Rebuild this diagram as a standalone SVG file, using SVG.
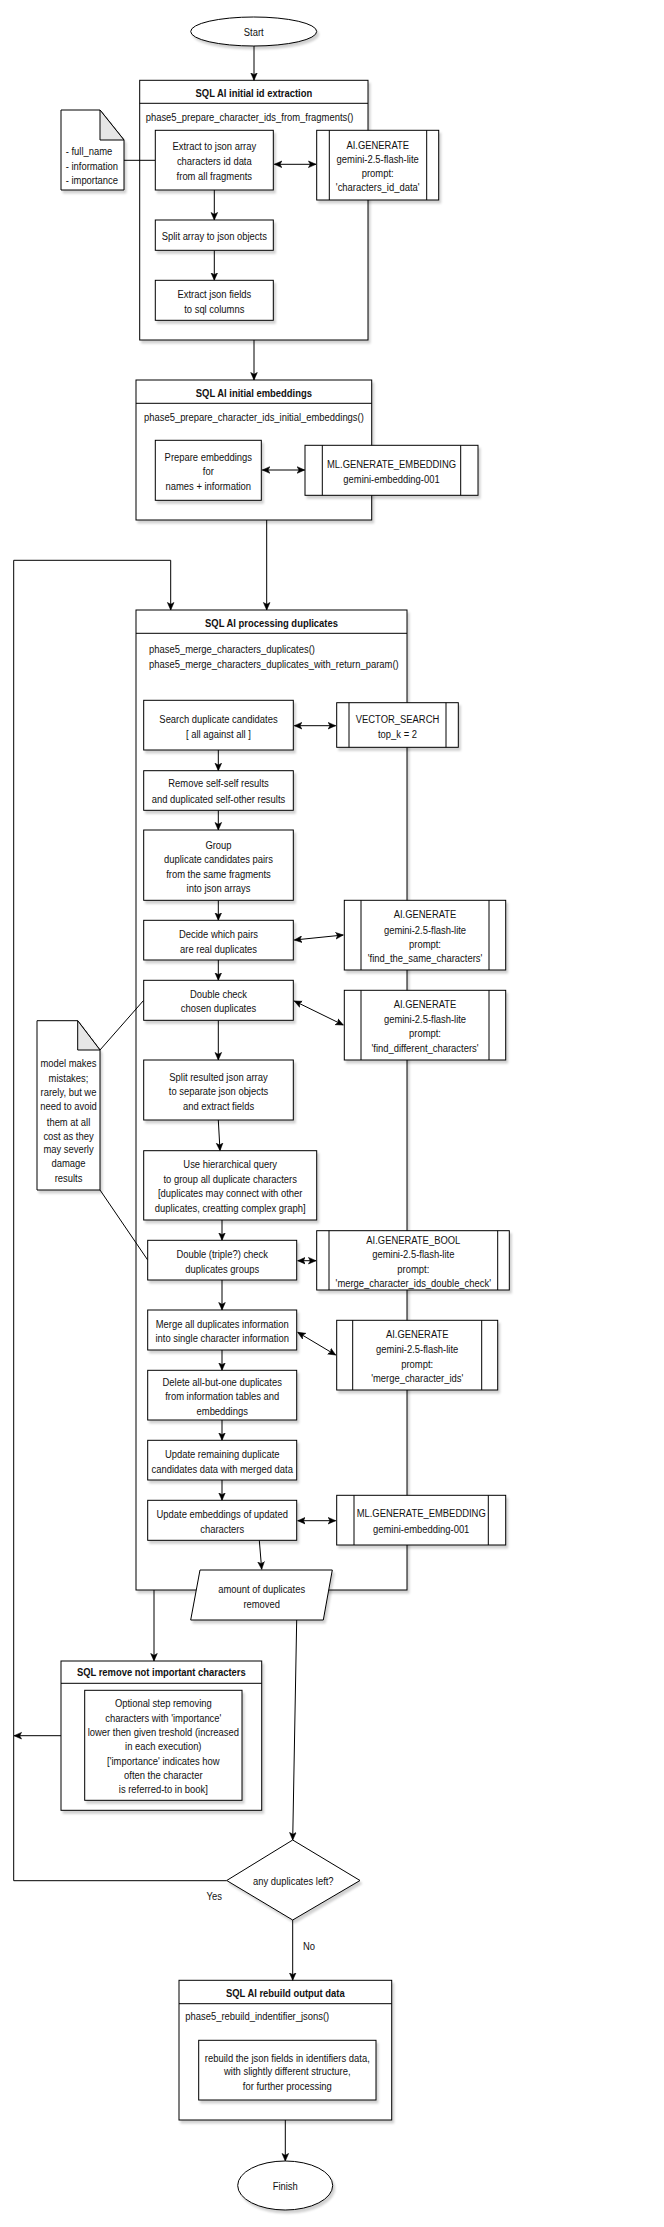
<svg xmlns="http://www.w3.org/2000/svg" width="664" height="2227" viewBox="0 0 664 2227">
<style>
.s{fill:#fff;stroke:#000;stroke-width:1;filter:url(#sh)}
.n{fill:none;stroke:#000;stroke-width:1}
.f{fill:#e6e6e6;stroke:#000;stroke-width:1}
.c{fill:none;stroke:#000;stroke-width:1}
.a{marker-end:url(#ar)}
.d{marker-start:url(#ar);marker-end:url(#ar)}
text{font-family:"Liberation Sans",Arial,sans-serif;font-size:11.5px;fill:#111;text-anchor:middle}
.b{font-weight:bold}
.l{text-anchor:start}
</style>
<defs>
<filter id="sh" x="-10%" y="-10%" width="130%" height="130%"><feDropShadow dx="2" dy="3" stdDeviation="1.2" flood-color="#000" flood-opacity="0.18"/></filter>
<marker id="ar" markerUnits="userSpaceOnUse" markerWidth="8.5" markerHeight="8.5" viewBox="0 0 9 8" refX="8" refY="4" orient="auto-start-reverse"><path d="M0,0.5 L8,4 L0,7.5 L2,4 Z" fill="#000" stroke="#000" stroke-width="0.6"/></marker>
</defs>
<rect width="664" height="2227" fill="#fff"/>

<g id="container-extraction">
<rect class="s" x="139.7" y="80.3" width="228.3" height="259.7"/>
<line class="n" x1="139.7" y1="103.3" x2="368" y2="103.3"/>
<text class="b" transform="translate(253.9,97) scale(0.82,1)">SQL AI initial id extraction</text>
<text class="l" transform="translate(145.7,120.7) scale(0.82,1)">phase5_prepare_character_ids_from_fragments()</text>
</g>
<g id="container-embeddings">
<rect class="s" x="136" y="380" width="235.7" height="140"/>
<line class="n" x1="136" y1="403.3" x2="371.7" y2="403.3"/>
<text class="b" transform="translate(253.9,396.7) scale(0.82,1)">SQL AI initial embeddings</text>
<text class="l" transform="translate(144,420.7) scale(0.82,1)">phase5_prepare_character_ids_initial_embeddings()</text>
</g>
<g id="container-duplicates">
<rect class="s" x="136" y="610" width="271" height="980"/>
<line class="n" x1="136" y1="633.3" x2="407" y2="633.3"/>
<text class="b" transform="translate(271.5,626.7) scale(0.82,1)">SQL AI processing duplicates</text>
<text class="l" transform="translate(149,653.3) scale(0.82,1)"><tspan x="0" y="0">phase5_merge_characters_duplicates()</tspan><tspan x="0" y="14.7">phase5_merge_characters_duplicates_with_return_param()</tspan></text>
</g>
<g id="container-remove">
<rect class="s" x="61" y="1661" width="200.7" height="149.3"/>
<line class="n" x1="61" y1="1683.3" x2="261.7" y2="1683.3"/>
<text class="b" transform="translate(161.3,1676.3) scale(0.82,1)">SQL remove not important characters</text>
</g>
<g id="container-rebuild">
<rect class="s" x="179" y="1980.3" width="212.7" height="139.7"/>
<line class="n" x1="179" y1="2003.7" x2="391.7" y2="2003.7"/>
<text class="b" transform="translate(285.3,1996.7) scale(0.82,1)">SQL AI rebuild output data</text>
<text class="l" transform="translate(185.3,2020) scale(0.82,1)">phase5_rebuild_indentifier_jsons()</text>
</g>

<g id="connectors">
<line class="c a" x1="254" y1="46" x2="254" y2="80.3"/>
<line class="c" x1="124" y1="160.3" x2="155.3" y2="160.3"/>
<line class="c d" x1="274.3" y1="164.3" x2="316" y2="164.3"/>
<line class="c a" x1="214.3" y1="190" x2="214.3" y2="220"/>
<line class="c a" x1="214.3" y1="250.3" x2="214.3" y2="280.3"/>
<line class="c a" x1="254" y1="340" x2="254" y2="380"/>
<line class="c d" x1="262.3" y1="470" x2="304.7" y2="470"/>
<line class="c a" x1="266.7" y1="520" x2="266.7" y2="610"/>
<polyline class="c a" points="226.7,1880.7 13.7,1880.7 13.7,560.3 170.7,560.3 170.7,610"/>
<line class="c d" x1="294.3" y1="725.7" x2="335.7" y2="725.7"/>
<line class="c a" x1="218.3" y1="750" x2="218.3" y2="770.7"/>
<line class="c a" x1="218.3" y1="810.3" x2="218.3" y2="830"/>
<line class="c a" x1="218.3" y1="900.3" x2="218.3" y2="920.3"/>
<line class="c d" x1="294.3" y1="940" x2="343.3" y2="935"/>
<line class="c a" x1="218.3" y1="960" x2="218.3" y2="980.3"/>
<line class="c d" x1="294.3" y1="1001" x2="343.3" y2="1025"/>
<line class="c a" x1="218.3" y1="1020.3" x2="218.3" y2="1060"/>
<line class="c a" x1="218.3" y1="1120" x2="220" y2="1150.7"/>
<line class="c a" x1="222" y1="1220" x2="222" y2="1240.3"/>
<line class="c d" x1="297.7" y1="1260.7" x2="316" y2="1260.7"/>
<line class="c a" x1="222" y1="1280" x2="222" y2="1310"/>
<line class="c d" x1="297.7" y1="1332.3" x2="335.7" y2="1355"/>
<line class="c a" x1="222" y1="1350" x2="222" y2="1370.3"/>
<line class="c a" x1="222" y1="1420" x2="222" y2="1440.3"/>
<line class="c a" x1="222" y1="1480" x2="222" y2="1500.3"/>
<line class="c d" x1="297.7" y1="1520.7" x2="335.7" y2="1520.7"/>
<line class="c a" x1="259.3" y1="1540.3" x2="261.7" y2="1569.3"/>
<line class="c" x1="100" y1="1050" x2="143.7" y2="1000.3"/>
<line class="c" x1="100" y1="1190" x2="147.7" y2="1260"/>
<line class="c a" x1="154" y1="1590" x2="154" y2="1661"/>
<line class="c a" x1="296.7" y1="1620" x2="292.7" y2="1840"/>
<line class="c a" x1="61" y1="1735.7" x2="14" y2="1735.7"/>
<line class="c a" x1="292.7" y1="1920" x2="292.7" y2="1980.3"/>
<line class="c a" x1="285.3" y1="2120" x2="285.3" y2="2161"/>
<text transform="translate(214.3,1899.7) scale(0.82,1)">Yes</text>
<text transform="translate(309,1949.7) scale(0.82,1)">No</text>
</g>

<g id="start">
<ellipse class="s" cx="253.7" cy="31.5" rx="63" ry="14.5"/>
<text transform="translate(253.7,35.5) scale(0.82,1)">Start</text>
</g>
<g id="note-fields">
<path class="s" d="M61,110 L100,110 L124,140 L124,190 L61,190 Z"/>
<path class="f" d="M100,110 L100,140 L124,140 Z"/>
<text class="l" transform="translate(65.7,155) scale(0.82,1)"><tspan x="0" y="0">- full_name</tspan><tspan x="0" y="14.7">- information</tspan><tspan x="0" y="29">- importance</tspan></text>
</g>
<g id="extract-array">
<rect class="s" x="155.3" y="130.3" width="118" height="59.7"/>
<text transform="translate(214.3,149.7) scale(0.82,1)"><tspan x="0" y="0">Extract to json array</tspan><tspan x="0" y="15">characters id data</tspan><tspan x="0" y="30">from all fragments</tspan></text>
</g>
<g id="ai-generate-ids">
<rect class="s" x="316.7" y="130.3" width="122" height="69.7"/>
<line class="n" x1="329.3" y1="130.3" x2="329.3" y2="200"/>
<line class="n" x1="426.7" y1="130.3" x2="426.7" y2="200"/>
<text transform="translate(377.7,149) scale(0.82,1)"><tspan x="0" y="0">AI.GENERATE</tspan><tspan x="0" y="14.3">gemini-2.5-flash-lite</tspan><tspan x="0" y="28.3">prompt:</tspan><tspan x="0" y="42.3">'characters_id_data'</tspan></text>
</g>
<g id="split-array">
<rect class="s" x="155.3" y="220" width="118" height="30.3"/>
<text transform="translate(214.3,239.7) scale(0.82,1)">Split array to json objects</text>
</g>
<g id="extract-fields">
<rect class="s" x="155.3" y="280.3" width="118" height="40"/>
<text transform="translate(214.3,297.7) scale(0.82,1)"><tspan x="0" y="0">Extract json fields</tspan><tspan x="0" y="15">to sql columns</tspan></text>
</g>
<g id="prepare-embeddings">
<rect class="s" x="155.3" y="440.3" width="106" height="60"/>
<text transform="translate(208.3,461.3) scale(0.82,1)"><tspan x="0" y="0">Prepare embeddings</tspan><tspan x="0" y="13.7">for</tspan><tspan x="0" y="28.7">names + information</tspan></text>
</g>
<g id="ml-embedding-1">
<rect class="s" x="305" y="445.3" width="173" height="50"/>
<line class="n" x1="322.3" y1="445.3" x2="322.3" y2="495.3"/>
<line class="n" x1="460.7" y1="445.3" x2="460.7" y2="495.3"/>
<text transform="translate(391.5,467.7) scale(0.82,1)"><tspan x="0" y="0">ML.GENERATE_EMBEDDING</tspan><tspan x="0" y="15">gemini-embedding-001</tspan></text>
</g>
<g id="search-candidates">
<rect class="s" x="143.7" y="700.3" width="149.6" height="49.7"/>
<text transform="translate(218.5,723) scale(0.82,1)"><tspan x="0" y="0">Search duplicate candidates</tspan><tspan x="0" y="15">[ all against all ]</tspan></text>
</g>
<g id="vector-search">
<rect class="s" x="336.7" y="702.7" width="121.6" height="44.6"/>
<line class="n" x1="349" y1="702.7" x2="349" y2="747.3"/>
<line class="n" x1="446" y1="702.7" x2="446" y2="747.3"/>
<text transform="translate(397.5,723) scale(0.82,1)"><tspan x="0" y="0">VECTOR_SEARCH</tspan><tspan x="0" y="15">top_k = 2</tspan></text>
</g>
<g id="remove-self">
<rect class="s" x="143.7" y="770.7" width="149.6" height="39.6"/>
<text transform="translate(218.5,787.3) scale(0.82,1)"><tspan x="0" y="0">Remove self-self results</tspan><tspan x="0" y="15.4">and duplicated self-other results</tspan></text>
</g>
<g id="group-pairs">
<rect class="s" x="143.7" y="830" width="149.6" height="70.3"/>
<text transform="translate(218.5,849) scale(0.82,1)"><tspan x="0" y="0">Group</tspan><tspan x="0" y="14.3">duplicate candidates pairs</tspan><tspan x="0" y="29">from the same fragments</tspan><tspan x="0" y="42.7">into json arrays</tspan></text>
</g>
<g id="decide-pairs">
<rect class="s" x="143.7" y="920.3" width="149.6" height="39.7"/>
<text transform="translate(218.5,938) scale(0.82,1)"><tspan x="0" y="0">Decide which pairs</tspan><tspan x="0" y="15">are real duplicates</tspan></text>
</g>
<g id="ai-generate-same">
<rect class="s" x="344.3" y="900.3" width="161.4" height="69.7"/>
<line class="n" x1="361" y1="900.3" x2="361" y2="970"/>
<line class="n" x1="489" y1="900.3" x2="489" y2="970"/>
<text transform="translate(425,918) scale(0.82,1)"><tspan x="0" y="0">AI.GENERATE</tspan><tspan x="0" y="16">gemini-2.5-flash-lite</tspan><tspan x="0" y="30.3">prompt:</tspan><tspan x="0" y="44.3">'find_the_same_characters'</tspan></text>
</g>
<g id="double-check">
<rect class="s" x="143.7" y="980.3" width="149.6" height="40"/>
<text transform="translate(218.5,998) scale(0.82,1)"><tspan x="0" y="0">Double check</tspan><tspan x="0" y="14.3">chosen duplicates</tspan></text>
</g>
<g id="ai-generate-different">
<rect class="s" x="344.3" y="990.3" width="161.4" height="69.7"/>
<line class="n" x1="361" y1="990.3" x2="361" y2="1060"/>
<line class="n" x1="489" y1="990.3" x2="489" y2="1060"/>
<text transform="translate(425,1008.3) scale(0.82,1)"><tspan x="0" y="0">AI.GENERATE</tspan><tspan x="0" y="14.7">gemini-2.5-flash-lite</tspan><tspan x="0" y="29">prompt:</tspan><tspan x="0" y="43.4">'find_different_characters'</tspan></text>
</g>
<g id="note-mistakes">
<path class="s" d="M37,1020.7 L77.7,1020.7 L100,1050 L100,1190 L37,1190 Z"/>
<path class="f" d="M77.7,1020.7 L77.7,1050 L100,1050 Z"/>
<text transform="translate(68.5,1066.7) scale(0.82,1)"><tspan x="0" y="0">model makes</tspan><tspan x="0" y="15">mistakes;</tspan><tspan x="0" y="29">rarely, but we</tspan><tspan x="0" y="43.3">need to avoid</tspan><tspan x="0" y="59">them at all</tspan><tspan x="0" y="73">cost as they</tspan><tspan x="0" y="86.6">may severly</tspan><tspan x="0" y="100.6">damage</tspan><tspan x="0" y="115">results</tspan></text>
</g>
<g id="split-resulted">
<rect class="s" x="143.7" y="1060" width="149.6" height="60"/>
<text transform="translate(218.5,1081) scale(0.82,1)"><tspan x="0" y="0">Split resulted json array</tspan><tspan x="0" y="14">to separate json objects</tspan><tspan x="0" y="29">and extract fields</tspan></text>
</g>
<g id="hierarchical-query">
<rect class="s" x="143.7" y="1150.7" width="173" height="69.3"/>
<text transform="translate(230.2,1168.3) scale(0.82,1)"><tspan x="0" y="0">Use hierarchical query</tspan><tspan x="0" y="14.7">to group all duplicate characters</tspan><tspan x="0" y="29">[duplicates may connect with other</tspan><tspan x="0" y="43.4">duplicates, creatting complex graph]</tspan></text>
</g>
<g id="double-triple-check">
<rect class="s" x="147.7" y="1240.3" width="149" height="39.7"/>
<text transform="translate(222.2,1258) scale(0.82,1)"><tspan x="0" y="0">Double (triple?) check</tspan><tspan x="0" y="14.7">duplicates groups</tspan></text>
</g>
<g id="ai-generate-bool">
<rect class="s" x="316.7" y="1230.7" width="192.6" height="59.3"/>
<line class="n" x1="329" y1="1230.7" x2="329" y2="1290"/>
<line class="n" x1="497.7" y1="1230.7" x2="497.7" y2="1290"/>
<text transform="translate(413.3,1244) scale(0.82,1)"><tspan x="0" y="0">AI.GENERATE_BOOL</tspan><tspan x="0" y="14">gemini-2.5-flash-lite</tspan><tspan x="0" y="28.7">prompt:</tspan><tspan x="0" y="42.7">'merge_character_ids_double_check'</tspan></text>
</g>
<g id="merge-info">
<rect class="s" x="147.7" y="1310" width="149" height="40"/>
<text transform="translate(222.2,1327.7) scale(0.82,1)"><tspan x="0" y="0">Merge all duplicates information</tspan><tspan x="0" y="14.6">into single character information</tspan></text>
</g>
<g id="ai-generate-merge">
<rect class="s" x="336.7" y="1320.3" width="161" height="69.7"/>
<line class="n" x1="352.7" y1="1320.3" x2="352.7" y2="1390"/>
<line class="n" x1="481.7" y1="1320.3" x2="481.7" y2="1390"/>
<text transform="translate(417.2,1338.3) scale(0.82,1)"><tspan x="0" y="0">AI.GENERATE</tspan><tspan x="0" y="14.7">gemini-2.5-flash-lite</tspan><tspan x="0" y="29.7">prompt:</tspan><tspan x="0" y="44">'merge_character_ids'</tspan></text>
</g>
<g id="delete-duplicates">
<rect class="s" x="147.7" y="1370.3" width="149" height="49.7"/>
<text transform="translate(222.2,1386.3) scale(0.82,1)"><tspan x="0" y="0">Delete all-but-one duplicates</tspan><tspan x="0" y="13.4">from information tables and</tspan><tspan x="0" y="28.4">embeddings</tspan></text>
</g>
<g id="update-remaining">
<rect class="s" x="147.7" y="1440.3" width="149" height="39.7"/>
<text transform="translate(222.2,1458.3) scale(0.82,1)"><tspan x="0" y="0">Update remaining duplicate</tspan><tspan x="0" y="14.7">candidates data with merged data</tspan></text>
</g>
<g id="update-embeddings">
<rect class="s" x="147.7" y="1500.3" width="149" height="40"/>
<text transform="translate(222.2,1518) scale(0.82,1)"><tspan x="0" y="0">Update embeddings of updated</tspan><tspan x="0" y="14.7">characters</tspan></text>
</g>
<g id="ml-embedding-2">
<rect class="s" x="336.7" y="1495.3" width="169" height="49.7"/>
<line class="n" x1="354" y1="1495.3" x2="354" y2="1545"/>
<line class="n" x1="488.3" y1="1495.3" x2="488.3" y2="1545"/>
<text transform="translate(421.2,1517.3) scale(0.82,1)"><tspan x="0" y="0">ML.GENERATE_EMBEDDING</tspan><tspan x="0" y="15.4">gemini-embedding-001</tspan></text>
</g>
<g id="amount-removed">
<polygon class="s" points="200,1570 332.3,1570 323.3,1620 190.7,1620"/>
<text transform="translate(261.7,1592.7) scale(0.82,1)"><tspan x="0" y="0">amount of duplicates</tspan><tspan x="0" y="15">removed</tspan></text>
</g>
<g id="optional-remove">
<rect class="s" x="84.7" y="1690.3" width="157.3" height="110"/>
<text transform="translate(163.3,1706.7) scale(0.82,1)"><tspan x="0" y="0">Optional step removing</tspan><tspan x="0" y="15">characters with 'importance'</tspan><tspan x="0" y="29">lower then given treshold (increased</tspan><tspan x="0" y="43.3">in each execution)</tspan><tspan x="0" y="58">['importance' indicates how</tspan><tspan x="0" y="72.3">often the character</tspan><tspan x="0" y="86.6">is referred-to in book]</tspan></text>
</g>
<g id="decision">
<polygon class="s" points="292.7,1840 360,1880.5 292.7,1920 226.7,1880.5"/>
<text transform="translate(293.3,1884.5) scale(0.82,1)">any duplicates left?</text>
</g>
<g id="rebuild-json">
<rect class="s" x="198.7" y="2040.3" width="177.3" height="59.7"/>
<text transform="translate(287.3,2061.7) scale(0.82,1)"><tspan x="0" y="0">rebuild the json fields in identifiers data,</tspan><tspan x="0" y="13.3">with slightly different structure,</tspan><tspan x="0" y="28.3">for further processing</tspan></text>
</g>
<g id="finish">
<ellipse class="s" cx="285.2" cy="2185.5" rx="47.5" ry="24.5"/>
<text transform="translate(285.2,2189.5) scale(0.82,1)">Finish</text>
</g>
</svg>
